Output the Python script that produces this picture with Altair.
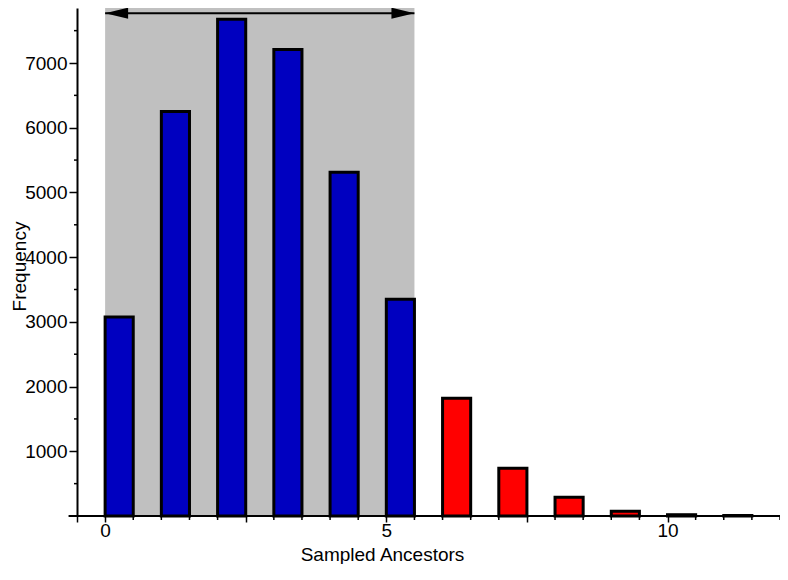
import altair as alt
import pandas as pd

# ---- data ----
ancestors = list(range(12))
frequency = [3075, 6250, 7676, 7210, 5311, 3348, 1819, 736, 291, 75, 20, 8]
group = ["in", "in", "in", "in", "in", "in", "out", "out", "out", "out", "out", "out"]

x_major_ticks = [-0.5, 0, 2.5, 5, 7.5, 10]
x_minor_ticks = [v / 2 for v in range(1, 25) if (v / 2) not in x_major_ticks]
y_major_ticks = [1000, 2000, 3000, 4000, 5000, 6000, 7000]
y_minor_ticks = [500, 1500, 2500, 3500, 4500, 5500, 6500, 7500]

region_start, region_end = 0, 5.5
arrow_level = 7770

X_MIN, X_MAX = -0.5, 12.0
Y_MAX = 7850
W, H = 703, 508
FONT = "Liberation Sans"
FS = 19

bars = pd.DataFrame({"k": ancestors, "freq": frequency, "group": group})
bars["k2"] = bars["k"] + 0.5

xs = alt.Scale(domain=[X_MIN, X_MAX], nice=False, zero=False)
ys = alt.Scale(domain=[0, Y_MAX], nice=False, zero=False)

region_df = pd.DataFrame({"a": [region_start], "b": [region_end]})
region = alt.Chart(region_df).mark_rect(color="#C0C0C0").encode(
    x=alt.X("a:Q", scale=xs,
            axis=alt.Axis(values=x_major_ticks, tickSize=6, tickWidth=1.5, tickColor="black",
                          domain=False, grid=False, format="d",
                          labelExpr="(datum.value == 0 || datum.value == 5 || datum.value == 10) ? datum.label : ''",
                          labelFont=FONT, labelFontSize=FS, labelColor="black",
                          labelBaseline="alphabetic", labelPadding=14,
                          labelFlush=False, labelOverlap=False,
                          title="Sampled Ancestors", titleFont=FONT, titleFontSize=FS,
                          titleFontWeight="normal", titleColor="black",
                          titleX=305, titleY=44, titleBaseline="alphabetic", titleAnchor="start",
                          titleAlign="center")),
    x2="b:Q",
    y=alt.value(0),
    y2=alt.value(H),
)

bar_layer = alt.Chart(bars).mark_rect(stroke="black", strokeWidth=3).encode(
    x=alt.X("k:Q", scale=xs),
    x2="k2:Q",
    y=alt.Y("freq:Q", scale=ys,
            axis=alt.Axis(values=y_major_ticks, tickSize=8, tickWidth=1.5, tickColor="black",
                          domain=True, domainColor="black", domainWidth=2, grid=False, format="d",
                          labelFont=FONT, labelFontSize=FS, labelColor="black", labelPadding=2,
                          labelFlush=False,
                          title="Frequency", titleFont=FONT, titleFontSize=FS,
                          titleFontWeight="normal", titleColor="black",
                          titleX=-52, titleY=258, titleAngle=-90, titleBaseline="alphabetic",
                          titleAlign="center", titleAnchor="start")),
    y2=alt.datum(0),
    fill=alt.Fill("group:N", scale=alt.Scale(domain=["in", "out"], range=["#0000C0", "#FF0000"]),
                  legend=None),
)

axis_df = pd.DataFrame({"x1": [-0.65], "x2": [X_MAX], "y": [0]})
x_axis_line = alt.Chart(axis_df).mark_rule(color="black", strokeWidth=2).encode(
    x=alt.X("x1:Q", scale=xs), x2="x2:Q", y=alt.Y("y:Q", scale=ys)
)

xminor = alt.Chart(pd.DataFrame({"v": x_minor_ticks})).mark_rule(color="black", strokeWidth=1.5).encode(
    x=alt.X("v:Q", scale=xs), y=alt.value(H), y2=alt.value(H + 4)
)
yminor = alt.Chart(pd.DataFrame({"v": y_minor_ticks})).mark_rule(color="black", strokeWidth=1.5).encode(
    y=alt.Y("v:Q", scale=ys), x=alt.value(-3), x2=alt.value(0)
)

arrow_df = pd.DataFrame({"a": [region_start], "b": [region_end], "y": [arrow_level]})
arrow_line = alt.Chart(arrow_df).mark_rule(color="black", strokeWidth=2).encode(
    x=alt.X("a:Q", scale=xs), x2="b:Q", y=alt.Y("y:Q", scale=ys)
)
head_left = alt.Chart(arrow_df).mark_point(
    shape="M0,0L2,-0.48L2,0.48Z", filled=True, color="black", size=529, opacity=1, strokeWidth=0
).encode(x=alt.X("a:Q", scale=xs), y=alt.Y("y:Q", scale=ys))
head_right = alt.Chart(arrow_df).mark_point(
    shape="M0,0L-2,-0.48L-2,0.48Z", filled=True, color="black", size=529, opacity=1, strokeWidth=0
).encode(x=alt.X("b:Q", scale=xs), y=alt.Y("y:Q", scale=ys))

chart = alt.layer(
    region, bar_layer, x_axis_line, xminor, yminor, arrow_line, head_left, head_right
).properties(
    width=W, height=H,
    autosize=alt.AutoSizeParams(type="none"),
    padding={"left": 69, "top": 0, "right": 0, "bottom": 48},
).configure(background="white", view=alt.ViewConfig(stroke=None))

chart.save("out.html", embed_options={"renderer": "svg", "actions": False})
